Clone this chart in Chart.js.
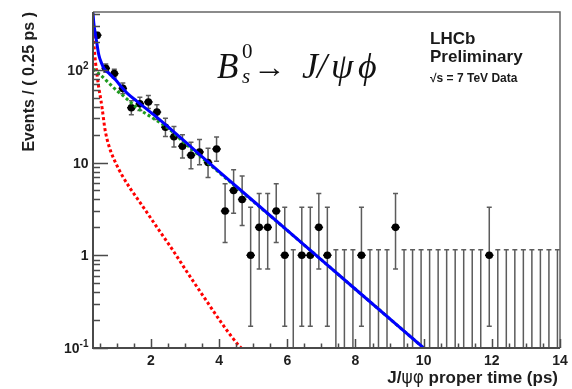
<!DOCTYPE html>
<html>
<head>
<meta charset="utf-8">
<script src="https://cdn.jsdelivr.net/npm/chart.js@4.4.1/dist/chart.umd.min.js"></script>
<style>
  html, body { margin: 0; padding: 0; background: #fff; }
  #plot { display: block; }
</style>
</head>
<body>
<canvas id="plot" width="572" height="389"></canvas>
<script>
// proper-time histogram, 0.25 ps bins starting at 0.3 ps
var binStart = 0.3;
var binWidth = 0.25;
var counts = [236, 104, 91, 63, 39, 43, 45, 35, 24, 19, 15, 12, 13, 10, 14, 3, 5, 4, 1, 2,
              2, 3, 1, 0, 1, 1, 2, 1, 0, 0, 0, 1, 0, 0, 0, 2, 0, 0, 0, 0,
              0, 0, 0, 0, 0, 0, 1, 0, 0, 0, 0, 0, 0, 0, 0];

// fit projections (t in ps, events / 0.25 ps)
var totalT  = [0.3, 0.324, 0.374, 0.42, 0.47, 0.55, 0.62, 0.765, 0.96, 1.156, 1.30, 1.59, 2.08, 4, 6, 8, 10];
var totalY  = [415, 318, 238, 186, 145, 118, 104, 92, 78, 64, 56, 45.7, 32.8, 8.0, 1.86, 0.43, 0.1];
var signalT = [0.3, 0.52, 0.765, 1.01, 1.2, 1.59, 2.0, 2.5, 3, 4, 6, 8, 10];
var signalY = [102, 88, 72, 59, 52, 39, 31, 23.5, 16.1, 7.8, 1.85, 0.43, 0.1];
var promptT = [0.3, 0.33, 0.374, 0.42, 0.47, 0.52, 0.57, 0.65, 0.77, 0.96, 1.16, 1.40, 1.65, 2.14, 2.63, 3.12, 3.61, 4.10, 4.59, 4.65];
var promptY = [270, 185, 120, 88, 64, 50, 38, 23, 15, 10, 7.2, 5.2, 3.85, 2.1, 1.15, 0.61, 0.33, 0.18, 0.105, 0.1];

// axis labelling
var xTickLabels = [2, 4, 6, 8, 10, 12, 14];
var yDecades = [-1, 0, 1, 2];

var binCenters = counts.map(function (n, i) { return binStart + binWidth * (i + 0.5); });

function pairs(ts, ys) {
    return ts.map(function (t, i) { return { x: t, y: ys[i] }; });
}

// 68% poisson interval, zero bins get the usual 1.148 upper edge
function poissonBand(n) {
    if (n == 0) return [0, 1.148];
    var lo = n * Math.pow(1 - 1 / (9 * n) - 1 / (3 * Math.sqrt(n)), 3);
    var m = n + 1;
    var hi = m * Math.pow(1 - 1 / (9 * m) + 1 / (3 * Math.sqrt(m)), 3);
    return [lo, hi];
}

var sansBold = '"Liberation Sans", Arial, sans-serif';
var serif = '"Liberation Serif", "DejaVu Serif", serif';

var errorBars = {
    id: 'errorBars',
    beforeDatasetsDraw: function (chart) {
        var ctx = chart.ctx, xs = chart.scales.x, ys = chart.scales.y, a = chart.chartArea;
        ctx.save();
        ctx.beginPath();
        ctx.rect(a.left, a.top, a.right - a.left, a.bottom - a.top);
        ctx.clip();
        counts.forEach(function (n, i) {
            var px = xs.getPixelForValue(binCenters[i]);
            var band = poissonBand(n);
            var yHi = ys.getPixelForValue(band[1]);
            var yLo = band[0] > 0.1 ? ys.getPixelForValue(band[0]) : a.bottom + 2;
            ctx.strokeStyle = '#5c5c5c';
            ctx.lineWidth = 1.5;
            ctx.beginPath();
            ctx.moveTo(px, yLo); ctx.lineTo(px, yHi);
            ctx.moveTo(px - 2.5, yHi); ctx.lineTo(px + 2.5, yHi);
            if (band[0] > 0.1) { ctx.moveTo(px - 2.5, yLo); ctx.lineTo(px + 2.5, yLo); }
            ctx.stroke();
            if (n > 0) {
                var py = ys.getPixelForValue(n);
                var hw = (xs.getPixelForValue(binWidth) - xs.getPixelForValue(0)) / 2;
                ctx.strokeStyle = '#000';
                ctx.beginPath();
                ctx.moveTo(px - hw, py); ctx.lineTo(px + hw, py);
                ctx.stroke();
            }
        });
        ctx.restore();
    }
};

// draws a string so that it spans the given width
function fitText(ctx, s, x, y, width) {
    var w = ctx.measureText(s).width;
    ctx.save();
    ctx.translate(x, y);
    ctx.scale(width / w, 1);
    ctx.fillText(s, 0, 0);
    ctx.restore();
}

var axesAndText = {
    id: 'axesAndText',
    afterDraw: function (chart) {
        var ctx = chart.ctx, xs = chart.scales.x, ys = chart.scales.y, a = chart.chartArea;
        ctx.save();

        // frame
        ctx.strokeStyle = '#666';
        ctx.lineWidth = 1.5;
        ctx.beginPath();
        ctx.moveTo(a.left, a.top); ctx.lineTo(a.right, a.top); ctx.lineTo(a.right, a.bottom);
        ctx.stroke();
        ctx.strokeStyle = '#4a4a4a';
        ctx.lineWidth = 2;
        ctx.beginPath();
        ctx.moveTo(a.left, a.top); ctx.lineTo(a.left, a.bottom); ctx.lineTo(a.right, a.bottom);
        ctx.stroke();

        // y ticks
        ctx.lineWidth = 1.5;
        ctx.beginPath();
        yDecades.forEach(function (e) {
            for (var k = 1; k < 10; k++) {
                var v = k * Math.pow(10, e);
                if (v < ys.min || v > ys.max) continue;
                var py = Math.round(ys.getPixelForValue(v)) + 0.5;
                ctx.moveTo(a.left, py);
                ctx.lineTo(a.left + (k == 1 ? 15 : 7), py);
            }
        });
        // x ticks every 0.5 ps
        for (var t = 0.5; t <= 14.001; t += 0.5) {
            var px = Math.round(xs.getPixelForValue(t)) + 0.5;
            var major = Math.abs(t / 2 - Math.round(t / 2)) < 1e-6;
            ctx.moveTo(px, a.bottom);
            ctx.lineTo(px, a.bottom - (major ? 9 : 4.5));
        }
        ctx.stroke();

        ctx.fillStyle = '#1e1e1e';

        // x labels
        ctx.font = 'bold 14px ' + sansBold;
        ctx.textAlign = 'center';
        ctx.textBaseline = 'alphabetic';
        xTickLabels.forEach(function (v) {
            ctx.fillText(String(v), xs.getPixelForValue(v), 365);
        });

        // y labels, exponents raised
        ctx.textAlign = 'left';
        yDecades.forEach(function (e) {
            var py = ys.getPixelForValue(Math.pow(10, e));
            var base = e == 0 ? '1' : '10';
            var sup = (e == 0 || e == 1) ? '' : String(e);
            ctx.font = 'bold 14px ' + sansBold;
            var wb = ctx.measureText(base).width;
            ctx.font = 'bold 10px ' + sansBold;
            var ws = sup ? ctx.measureText(sup).width : 0;
            var x0 = 88.5 - wb - ws;
            ctx.font = 'bold 14px ' + sansBold;
            ctx.fillText(base, x0, py + 5);
            if (sup) {
                ctx.font = 'bold 10px ' + sansBold;
                ctx.fillText(sup, x0 + wb, py - 1);
            }
        });

        // x title, greek letters in plain weight
        var parts = [['J/', 'bold 17px ' + sansBold], ['\u03C8\u03C6', '17px "DejaVu Sans", sans-serif'],
                     [' proper time (ps)', 'bold 17px ' + sansBold]];
        var total = 0;
        parts.forEach(function (p) { ctx.font = p[1]; total += ctx.measureText(p[0]).width; });
        var xx = 558 - total;
        parts.forEach(function (p) {
            ctx.font = p[1];
            ctx.fillText(p[0], xx, 383);
            xx += ctx.measureText(p[0]).width;
        });

        // y title
        ctx.save();
        ctx.translate(34, 12);
        ctx.rotate(-Math.PI / 2);
        ctx.textAlign = 'right';
        ctx.font = 'bold 16px ' + sansBold;
        ctx.fillText('Events / ( 0.25 ps )', 0, 0);
        ctx.restore();

        // decay label
        ctx.fillStyle = '#111';
        ctx.textAlign = 'left';
        ctx.font = 'italic 35px ' + serif;
        ctx.fillText('B', 217, 78);
        ctx.font = '21px ' + serif;
        ctx.fillText('0', 242, 58);
        ctx.font = 'italic 21px ' + serif;
        ctx.fillText('s', 242, 83);
        ctx.font = '30px ' + serif;
        ctx.textBaseline = 'middle';
        fitText(ctx, '\u2192', 253, 69, 33);
        ctx.textBaseline = 'alphabetic';
        ctx.font = 'italic 36px ' + serif;
        ctx.fillText('J', 302, 78);
        ctx.fillText('/', 317, 78);
        ctx.fillText('\u03C8', 331, 78);
        ctx.fillText('\u03D5', 358, 78);

        // experiment tag
        ctx.fillStyle = '#1a1a1a';
        ctx.font = 'bold 17px ' + sansBold;
        ctx.fillText('LHCb', 430, 44);
        ctx.fillText('Preliminary', 430, 62);
        ctx.font = 'bold 12px ' + sansBold;
        ctx.fillText('\u221As = 7 TeV Data', 430, 82);

        ctx.restore();
    }
};

var chart = new Chart(document.getElementById('plot'), {
    type: 'scatter',
    data: {
        datasets: [
            {
                label: 'total',
                data: pairs(totalT, totalY),
                showLine: true,
                borderColor: '#0000ff',
                borderWidth: 3,
                pointRadius: 0,
                cubicInterpolationMode: 'monotone',
                order: 0
            },
            {
                label: 'signal',
                data: pairs(signalT, signalY),
                showLine: true,
                borderColor: '#1e9a1e',
                borderWidth: 3,
                borderDash: [3, 2.5],
                pointRadius: 0,
                cubicInterpolationMode: 'monotone',
                order: 1
            },
            {
                label: 'prompt',
                data: pairs(promptT, promptY),
                showLine: true,
                borderColor: '#ff0000',
                borderWidth: 3,
                borderDash: [3, 2.5],
                pointRadius: 0,
                cubicInterpolationMode: 'monotone',
                order: 2
            },
            {
                label: 'data',
                data: counts.map(function (n, i) { return { x: binCenters[i], y: n }; })
                            .filter(function (p) { return p.y > 0; }),
                pointRadius: 3.8,
                pointBackgroundColor: '#000',
                pointBorderWidth: 0,
                order: 3
            }
        ]
    },
    options: {
        responsive: false,
        devicePixelRatio: 1,
        animation: false,
        layout: { padding: { left: 93, top: 12, right: 12, bottom: 41 } },
        plugins: { legend: { display: false }, tooltip: { enabled: false } },
        scales: {
            x: { type: 'linear', min: 0.3, max: 14, display: false },
            y: { type: 'logarithmic', min: 0.1, max: 420, display: false }
        }
    },
    plugins: [errorBars, axesAndText]
});
</script>
</body>
</html>
